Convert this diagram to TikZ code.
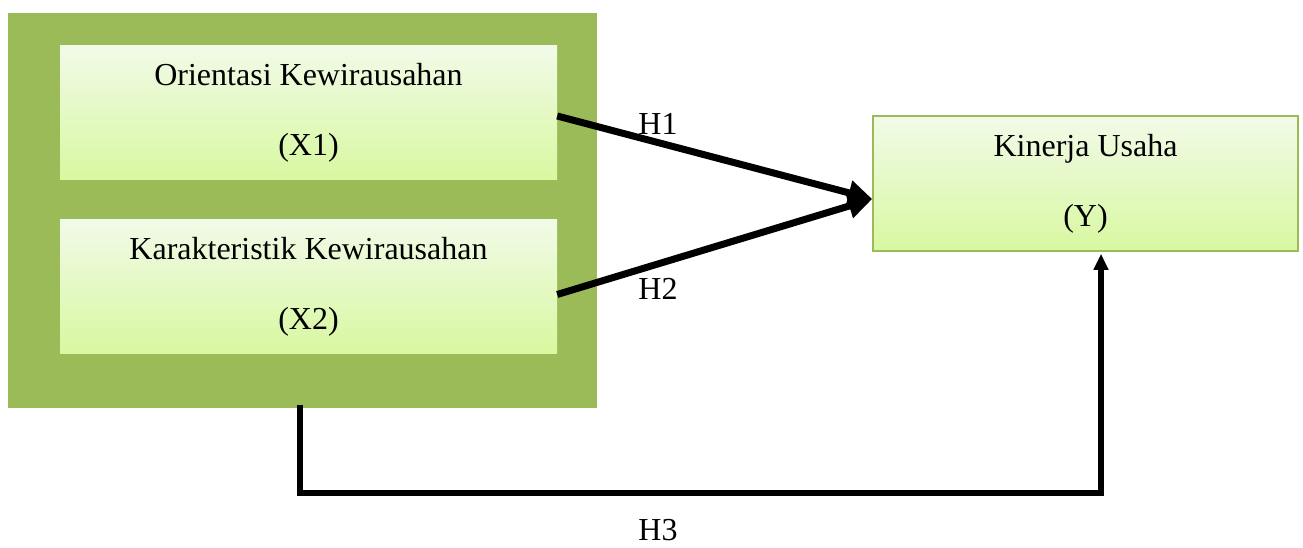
\documentclass[tikz,border=0pt]{standalone}
\usepackage{fontspec}
\setmainfont{Liberation Serif}
\usetikzlibrary{arrows.meta,calc}
\definecolor{olive}{HTML}{9BBB59}
\definecolor{paletop}{HTML}{F1FAE8}
\definecolor{palebot}{HTML}{D8F8A0}
\tikzset{
  x=1pt,y=1pt,
  txt/.style={font=\fontsize{32}{70}\selectfont, align=center},
  varbox/.style={txt, inner sep=0pt, top color=paletop, bottom color=palebot, draw=none},
  conn/.style={line width=7pt, -{Triangle[length=24pt,width=24pt]}},
  lab/.style={font=\fontsize{32}{38}\selectfont, inner sep=0pt}
}
\begin{document}
\begin{tikzpicture}
\useasboundingbox (0,0) rectangle (1303,547);
\node[fill=olive, minimum width=589, minimum height=395, inner sep=0pt] (outer) at (302.5,336.5) {};
\node[varbox, minimum width=497, minimum height=134] (X1) at (308.5,434) {Orientasi Kewirausahan\\(X1)};
\node[varbox, minimum width=497, minimum height=133] (X2) at (308.5,260.5) {Karakteristik Kewirausahan\\(X2)};
\node[varbox, draw=olive, line width=1.5pt, minimum width=425, minimum height=135] (Y) at (1085.5,363.5) {Kinerja Usaha\\(Y)};
\coordinate (tip) at ($(Y.west)+(0,-15.5)$);
\draw[conn] ($(X1.east)+(0,-3)$) -- (tip);
\draw[conn] ($(X2.east)+(0,-8)$) -- (tip);
\node[lab] (h1) at (658,423) {H1};
\node[lab] (h2) at (658,258) {H2};
\draw[line width=6pt, -{Triangle[length=16pt,width=14pt]}] ($(outer.south)+(-2.5,3)$) -- ++(0,-88) -| ($(Y.south)+(15.5,-2)$);
\node[lab] (h3) at (658,17) {H3};
\end{tikzpicture}
\end{document}
